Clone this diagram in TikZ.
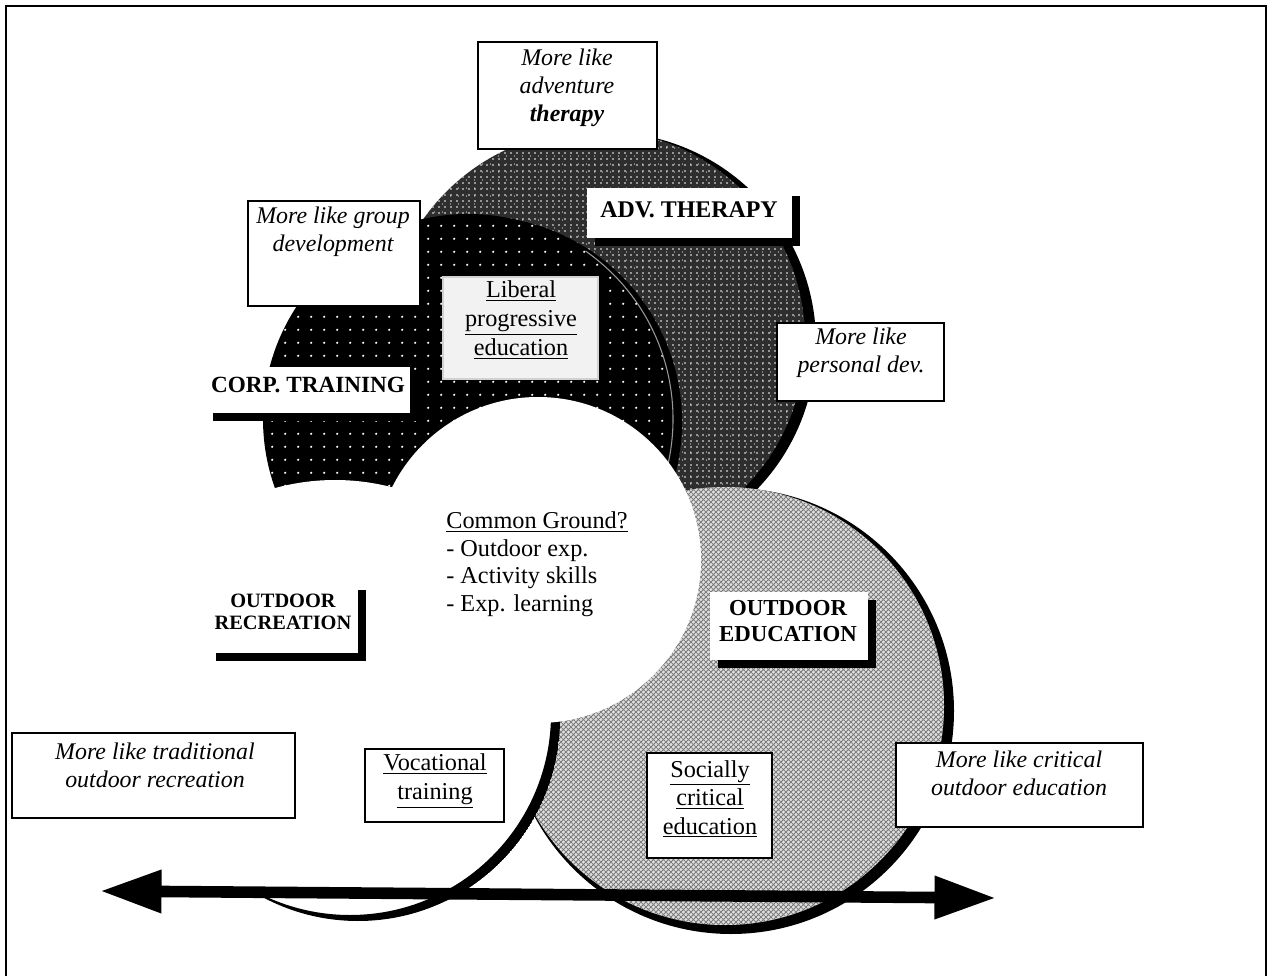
\documentclass[tikz,border=0pt]{standalone}
\usepackage{fontspec}
\setmainfont{Liberation Serif}
\usetikzlibrary{patterns,patterns.meta,arrows.meta,fit,shadows}

% sparse white dots on the black circle
\tikzdeclarepattern{
  name=sparsedots,
  type=uncolored,
  bounding box={(0pt,0pt) and (7.2pt,7.2pt)},
  tile size={(7.2pt,7.2pt)},
  code={\fill (3.6pt,3.6pt) circle (0.7pt);}
}
% dense speckle on the dark circle
\tikzdeclarepattern{
  name=finedots,
  type=uncolored,
  bounding box={(0pt,0pt) and (3.4pt,3.4pt)},
  tile size={(3.4pt,3.4pt)},
  code={\fill (1.7pt,1.7pt) circle (0.5pt);}
}
\tikzdeclarepattern{
  name=finedotsb,
  type=uncolored,
  bounding box={(0pt,0pt) and (4.3pt,4.3pt)},
  tile size={(4.3pt,4.3pt)},
  code={\fill (1pt,3pt) circle (0.35pt);}
}
% fine diagonal cross-hatch on the light circle
\tikzdeclarepattern{
  name=fxhatch,
  type=uncolored,
  bounding box={(0pt,0pt) and (2.8pt,2.8pt)},
  tile size={(2.8pt,2.8pt)},
  code={\draw[line width=0.45pt] (0pt,0pt) -- (2.8pt,2.8pt) (0pt,2.8pt) -- (2.8pt,0pt);}
}

\begin{document}
\begin{tikzpicture}[x=0.02cm,y=-0.02cm,
  likebox/.style={draw=black,line width=0.9pt,fill=white,inner sep=0pt},
  ulbox/.style={draw=black,line width=0.9pt,fill=white,inner sep=0pt},
  labelbox/.style={fill=white,inner sep=0pt,
    general shadow={fill=black,shadow xshift=4.6pt,shadow yshift=-4.4pt}},
  liketext/.style={font=\fontsize{13.6}{16}\selectfont\itshape,align=center,inner sep=0pt},
  labeltext/.style={font=\fontsize{13.6}{15}\selectfont\bfseries,align=center,inner sep=0pt},
  ultext/.style={font=\fontsize{13.8}{16.4}\selectfont,align=center,inner sep=0pt},
  cgtext/.style={font=\fontsize{13.8}{15.7}\selectfont,align=left,inner sep=0pt},
  bigarrow/.style={line width=6.6pt,{Triangle[length=35pt,width=23pt]}-{Triangle[length=35pt,width=23pt]}}
]
\useasboundingbox (0,0) rectangle (1271,976);

% ---- Adventure therapy circle (dark, shadow to the right)
\fill[black] (605,343) circle[radius=211];
\fill[black!82] (595,340) circle[radius=210];
\fill[pattern=finedots,pattern color=white] (595,340) circle[radius=210];
\fill[pattern=finedotsb,pattern color=white] (595,340) circle[radius=210];

% ---- Corporate training circle (black with white dots)
\fill[black] (476,422) circle[radius=206];
\fill[black] (468,419) circle[radius=205];
\fill[pattern=sparsedots,pattern color=white] (468,419) circle[radius=205];
\draw[black!40,line width=0.6pt] (468,419) ++(-55:205) arc[start angle=-55,end angle=25,radius=205];

% ---- Outdoor education circle (light cross-hatch, shadow right and below)
\fill[black] (731,711) circle[radius=223];
\fill[black!12] (725,706) circle[radius=219];
\fill[pattern=fxhatch,pattern color=black!52] (725,706) circle[radius=219];

% ---- Outdoor recreation circle (white) and its shadow rim, lower right only
\fill[white] (335,705) circle[radius=225];
\begin{scope}
  \clip (250,690) rectangle (620,960);
  \clip (358,719) circle[radius=202];
  \fill[black,even odd rule] (358,719) circle[radius=202] (350,714) circle[radius=201];
\end{scope}

% ---- Common ground (white centre)
\fill[white] (538,560) circle[radius=163];

% ---- Circle labels
\node[labelbox,fit={(587,188) (792,238)}] (advbox) {};
\node[labeltext] (advtxt) at (689,210) {ADV. THERAPY};

\node[labelbox,fit={(205,367) (410,413)}] (corpbox) {};
\node[labeltext,font=\fontsize{13.2}{15}\selectfont\bfseries] (corptxt) at (308,385) {CORP. TRAINING};

\node[labelbox,fit={(208,582) (358,653)}] (recbox) {};
\node[labeltext,font=\fontsize{11.6}{12.6}\selectfont\bfseries] (rectxt) at (283,612) {OUTDOOR\\RECREATION};

\node[labelbox,fit={(710,592) (868,660)}] (edubox) {};
\node[labeltext,font=\fontsize{13}{14.7}\selectfont\bfseries] (edutxt) at (788,621) {OUTDOOR\\EDUCATION};

% ---- "More like ..." boxes
\node[likebox,fit={(478,42) (657,149)}] (mlat) {};
\node[liketext] (mlattxt) at (567,88) {More like\\adventure\\{\bfseries therapy}};

\node[likebox,fit={(248,201) (420,306)}] (mlgd) {};
\node[liketext] (mlgdtxt) at (333,232) {More like group\\development};

\node[likebox,fit={(777,323) (944,401)}] (mlpd) {};
\node[liketext] (mlpdtxt) at (861,353) {More like\\personal dev.};

\node[likebox,fit={(12,733) (295,818)}] (mltr) {};
\node[liketext] (mltrtxt) at (155,765) {More like traditional\\outdoor recreation};

\node[likebox,fit={(896,743) (1143,827)}] (mlcr) {};
\node[liketext] (mlcrtxt) at (1019,773) {More like critical\\outdoor education};

% ---- Underlined education types
\node[ulbox,fill=black!5,draw=black!18,fit={(443,277) (598,379)}] (lib) {};
\node[ultext] (libtxt) at (521,320) {\underline{Liberal}\\\underline{progressive}\\\underline{education}};

\node[ulbox,fit={(365,749) (504,822)}] (voc) {};
\node[ultext,font=\fontsize{13.8}{17}\selectfont] (voctxt) at (435,781) {\underline{Vocational}\\\underline{training}};

\node[ulbox,fit={(647,753) (772,858)}] (soc) {};
\node[ultext,font=\fontsize{13.8}{16.2}\selectfont] (soctxt) at (710,799) {\underline{Socially}\\\underline{critical}\\\underline{education}};

% ---- Common ground list
\node[cgtext,anchor=west] (cg) at (446,564) {\underline{Common Ground?}\\- Outdoor exp.\\- Activity skills\\- Exp. learning};

% ---- Axis arrow
\coordinate (arrL) at (100,891);
\coordinate (arrR) at (996,898);
\draw[bigarrow] (arrL) -- (arrR);

% ---- Frame
\draw[line width=1.6pt] (6,1000) -- (6,6) -- (1266,6) -- (1266,1000);
\end{tikzpicture}
\end{document}
